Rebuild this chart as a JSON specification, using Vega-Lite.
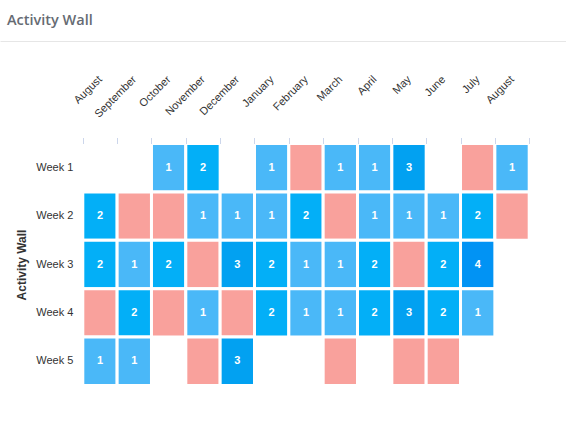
{
  "$schema": "https://vega.github.io/schema/vega-lite/v6.json",
  "autosize": "none",
  "width": 566,
  "height": 242,
  "padding": {"left": 0, "top": 143.5, "right": 0, "bottom": 44.5},
  "title": {"text": "Activity Wall", "anchor": "start", "frame": "group", "font": "Open Sans", "fontSize": 14.5, "fontWeight": 600, "color": "#666b73", "dx": 7, "offset": 13},
  "config": {
    "view": {"stroke": null},
    "axis": {"labelFont": "Liberation Sans", "titleFont": "Liberation Sans", "labelColor": "#333333", "titleColor": "#333333", "labelFontSize": 11}
  },
  "data": {"values": [
    {"month": "October 2022", "week": "Week 1", "count": 1},
    {"month": "November 2022", "week": "Week 1", "count": 2},
    {"month": "January 2023", "week": "Week 1", "count": 1},
    {"month": "February 2023", "week": "Week 1", "count": 0},
    {"month": "March 2023", "week": "Week 1", "count": 1},
    {"month": "April 2023", "week": "Week 1", "count": 1},
    {"month": "May 2023", "week": "Week 1", "count": 3},
    {"month": "July 2023", "week": "Week 1", "count": 0},
    {"month": "August 2023", "week": "Week 1", "count": 1},
    {"month": "August 2022", "week": "Week 2", "count": 2},
    {"month": "September 2022", "week": "Week 2", "count": 0},
    {"month": "October 2022", "week": "Week 2", "count": 0},
    {"month": "November 2022", "week": "Week 2", "count": 1},
    {"month": "December 2022", "week": "Week 2", "count": 1},
    {"month": "January 2023", "week": "Week 2", "count": 1},
    {"month": "February 2023", "week": "Week 2", "count": 2},
    {"month": "March 2023", "week": "Week 2", "count": 0},
    {"month": "April 2023", "week": "Week 2", "count": 1},
    {"month": "May 2023", "week": "Week 2", "count": 1},
    {"month": "June 2023", "week": "Week 2", "count": 1},
    {"month": "July 2023", "week": "Week 2", "count": 2},
    {"month": "August 2023", "week": "Week 2", "count": 0},
    {"month": "August 2022", "week": "Week 3", "count": 2},
    {"month": "September 2022", "week": "Week 3", "count": 1},
    {"month": "October 2022", "week": "Week 3", "count": 2},
    {"month": "November 2022", "week": "Week 3", "count": 0},
    {"month": "December 2022", "week": "Week 3", "count": 3},
    {"month": "January 2023", "week": "Week 3", "count": 2},
    {"month": "February 2023", "week": "Week 3", "count": 1},
    {"month": "March 2023", "week": "Week 3", "count": 1},
    {"month": "April 2023", "week": "Week 3", "count": 2},
    {"month": "May 2023", "week": "Week 3", "count": 0},
    {"month": "June 2023", "week": "Week 3", "count": 2},
    {"month": "July 2023", "week": "Week 3", "count": 4},
    {"month": "August 2022", "week": "Week 4", "count": 0},
    {"month": "September 2022", "week": "Week 4", "count": 2},
    {"month": "October 2022", "week": "Week 4", "count": 0},
    {"month": "November 2022", "week": "Week 4", "count": 1},
    {"month": "December 2022", "week": "Week 4", "count": 0},
    {"month": "January 2023", "week": "Week 4", "count": 2},
    {"month": "February 2023", "week": "Week 4", "count": 1},
    {"month": "March 2023", "week": "Week 4", "count": 1},
    {"month": "April 2023", "week": "Week 4", "count": 2},
    {"month": "May 2023", "week": "Week 4", "count": 3},
    {"month": "June 2023", "week": "Week 4", "count": 2},
    {"month": "July 2023", "week": "Week 4", "count": 1},
    {"month": "August 2022", "week": "Week 5", "count": 1},
    {"month": "September 2022", "week": "Week 5", "count": 1},
    {"month": "November 2022", "week": "Week 5", "count": 0},
    {"month": "December 2022", "week": "Week 5", "count": 3},
    {"month": "March 2023", "week": "Week 5", "count": 0},
    {"month": "May 2023", "week": "Week 5", "count": 0},
    {"month": "June 2023", "week": "Week 5", "count": 0}
  ]},
  "layer": [
    {
      "encoding": {
        "x": {
          "field": "month", "type": "ordinal",
          "scale": {"domain": ["August 2022", "September 2022", "October 2022", "November 2022", "December 2022", "January 2023", "February 2023", "March 2023", "April 2023", "May 2023", "June 2023", "July 2023", "August 2023"], "paddingInner": 0, "paddingOuter": 0, "range": [82.8, 529.2]},
          "axis": {"orient": "top", "title": null, "labelExpr": "split(datum.label, ' ')[0]", "labelAngle": -45, "labelAlign": "right", "labelBaseline": "middle", "labelPadding": 60, "tickBand": "extent", "tickSize": 6, "tickColor": "#ccd6eb", "domain": false}
        },
        "y": {
          "field": "week", "type": "ordinal",
          "scale": {"domain": ["Week 1", "Week 2", "Week 3", "Week 4", "Week 5"], "paddingInner": 0, "paddingOuter": 0},
          "axis": {"title": "Activity Wall", "offset": -82.8, "titleFontSize": 12, "titleFontWeight": "bold", "titlePadding": 7.5, "ticks": false, "domain": false, "labelPadding": 10}
        }
      },
      "layer": [
        {
          "mark": {"type": "rect", "stroke": "white", "strokeWidth": 3},
          "encoding": {
            "color": {"field": "count", "type": "ordinal", "legend": null,
              "scale": {"domain": [0, 1, 2, 3, 4], "range": ["#f9a19c", "#4ab8f8", "#03aff7", "#02a1f1", "#0193f4"]}}
          }
        },
        {
          "transform": [{"filter": "datum.count > 0"}],
          "mark": {"type": "text", "font": "Liberation Sans", "fontSize": 11, "fontWeight": "bold", "color": "white"},
          "encoding": {"text": {"field": "count", "type": "quantitative"}}
        }
      ]
    },
    {
      "data": {"values": [{"edge": 0}]},
      "mark": {"type": "rule", "opacity": 0},
      "encoding": {
        "x": {"field": "edge", "type": "quantitative", "scale": {"domain": [0, 1], "nice": false, "zero": false},
          "axis": {"orient": "top", "title": null, "labels": false, "ticks": false, "grid": false, "domain": true, "domainColor": "#e6e6e6", "domainWidth": 1, "offset": 102.5}}
      }
    }
  ],
  "resolve": {"scale": {"x": "independent"}, "axis": {"x": "independent"}}
}
